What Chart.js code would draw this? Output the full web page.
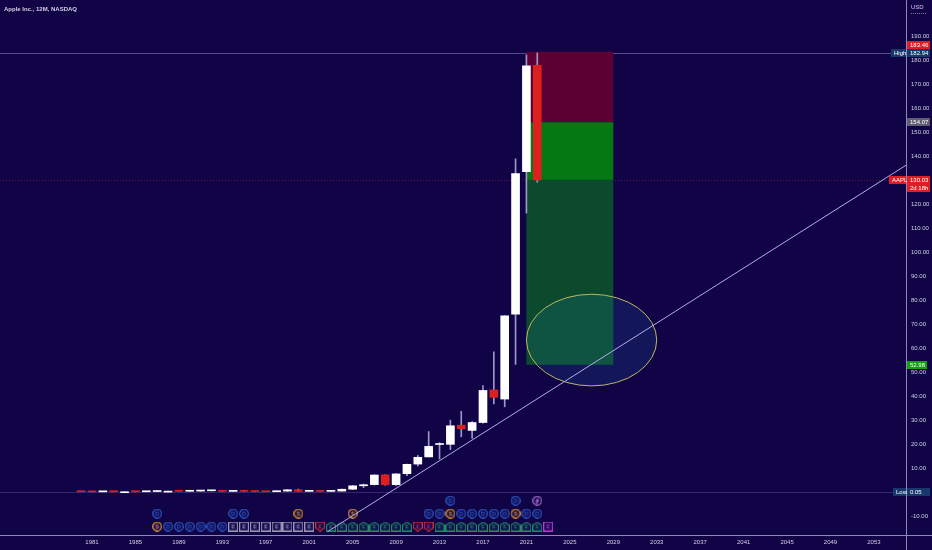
<!DOCTYPE html>
<html>
<head>
<meta charset="utf-8">
<script src="https://cdn.jsdelivr.net/npm/chart.js@4.4.0/dist/chart.umd.min.js"></script>
<style>
  html, body { margin: 0; padding: 0; background: #100346; }
  #wrap { width: 932px; height: 550px; position: relative; }
</style>
</head>
<body>
<div id="wrap"><canvas id="chart" width="932" height="550"></canvas></div>
<script>
// =====================================
// Yearly candles (split adjusted)
// =====================================
const years  = [1980, 1981, 1982, 1983, 1984, 1985, 1986, 1987, 1988, 1989, 1990, 1991, 1992, 1993, 1994, 1995, 1996, 1997, 1998, 1999, 2000, 2001, 2002, 2003, 2004, 2005, 2006, 2007, 2008, 2009, 2010, 2011, 2012, 2013, 2014, 2015, 2016, 2017, 2018, 2019, 2020, 2021, 2022];
const opens  = [0.13, 0.12, 0.07, 0.12, 0.11, 0.11, 0.10, 0.18, 0.36, 0.36, 0.30, 0.38, 0.50, 0.53, 0.26, 0.35, 0.29, 0.19, 0.12, 0.37, 0.93, 0.27, 0.40, 0.26, 0.38, 1.16, 2.59, 3.08, 7.12, 3.07, 7.62, 11.63, 14.62, 19.78, 19.85, 27.85, 25.65, 28.95, 42.54, 38.72, 74.06, 133.52, 177.83];
const highs  = [0.13, 0.13, 0.14, 0.23, 0.14, 0.13, 0.20, 0.54, 0.42, 0.45, 0.44, 0.65, 0.63, 0.66, 0.40, 0.45, 0.31, 0.21, 0.39, 1.04, 1.22, 0.47, 0.47, 0.42, 1.23, 2.69, 3.30, 7.20, 7.19, 7.62, 11.67, 15.24, 25.18, 20.54, 29.94, 33.64, 29.30, 44.30, 58.37, 73.49, 138.79, 182.13, 182.94];
const lows   = [0.11, 0.06, 0.05, 0.07, 0.08, 0.06, 0.08, 0.17, 0.30, 0.30, 0.21, 0.36, 0.39, 0.20, 0.24, 0.28, 0.16, 0.11, 0.12, 0.29, 0.23, 0.25, 0.23, 0.23, 0.37, 1.02, 1.80, 2.93, 2.79, 2.79, 6.79, 10.80, 14.60, 13.75, 17.63, 23.00, 22.37, 28.69, 36.65, 35.50, 53.15, 116.21, 129.04];
const closes = [0.12, 0.07, 0.12, 0.11, 0.11, 0.10, 0.18, 0.36, 0.36, 0.30, 0.38, 0.50, 0.53, 0.26, 0.35, 0.29, 0.19, 0.12, 0.37, 0.92, 0.27, 0.39, 0.26, 0.38, 1.15, 2.57, 3.03, 7.07, 3.05, 7.53, 11.52, 14.46, 19.01, 20.04, 27.59, 26.32, 28.95, 42.31, 39.44, 73.41, 132.69, 177.57, 130.03];

// axis ticks
const xTickYears = [1981, 1985, 1989, 1993, 1997, 2001, 2005, 2009, 2013, 2017, 2021, 2025, 2029, 2033, 2037, 2041, 2045, 2049, 2053];
const priceTicks = [-10, 0, 10, 20, 30, 40, 50, 60, 70, 80, 90, 100, 110, 120, 130, 140, 150, 160, 170, 180, 190];

// price markers
const highPrice = 182.94;
const lowPrice = 0.05;
const lastPrice = 130.03;

// short position tool: stop, entry, target
const positionYears = [2021, 2029];
const positionLevels = [183.46, 154.07, 52.98];

// ellipse (center year/price, radius years/price)
const ellipseCenter = [2027.0, 63.3];
const ellipseRadius = [6.0, 19.1];

// trend line
const trendYears = [2002.7, 2056.0];
const trendValues = [-16.5, 136.3];

// events on the chart bottom
const earningsGray  = [1994, 1995, 1996, 1997, 1998, 1999, 2000, 2001];
const earningsRed   = [2002, 2011, 2012];
const earningsGreen = [2003, 2004, 2005, 2006, 2007, 2008, 2009, 2010, 2013, 2014, 2015, 2016, 2017, 2018, 2019, 2020, 2021, 2022];
const earningsNext  = [2023];
const dividendsLow  = [1988, 1989, 1990, 1991, 1992, 1993];
const dividendsMid  = [1987, 1994, 1995, 2012, 2013, 2015, 2016, 2017, 2018, 2019, 2021, 2022];
const dividendsTop  = [2014, 2020];
const splitsLow     = [1987];
const splitsMid     = [2000, 2005, 2014, 2020];
const newsTop       = [2022];

// =====================================
// Look
// =====================================
const FONT = '"Liberation Sans", Arial, sans-serif';
const TEXT = '#d2d0e4';
const AXIS_LINE = '#8c88bc';
const UP = '#ffffff';
const DOWN = '#dd1f1f';
const WICK = '#9c98c8';
const ROW_LOW = -14.4, ROW_MID = -9.0, ROW_TOP = -3.6;

function makeIcon(shape, color, letter) {
    const c = document.createElement("canvas");
    c.width = 10; c.height = 10;
    const g = c.getContext("2d");
    g.lineWidth = 1.2;
    g.strokeStyle = color;
    g.fillStyle = "#120852";
    g.beginPath();
    if (shape === "circle") {
        g.arc(5, 5, 4.3, 0, Math.PI * 2);
    } else if (shape === "house") {
        g.moveTo(5, 0.6); g.lineTo(9.4, 3.5); g.lineTo(9.4, 9.4); g.lineTo(0.6, 9.4); g.lineTo(0.6, 3.5); g.closePath();
    } else if (shape === "shield") {
        g.moveTo(0.6, 0.6); g.lineTo(9.4, 0.6); g.lineTo(9.4, 6.5); g.lineTo(5, 9.4); g.lineTo(0.6, 6.5); g.closePath();
    } else {
        g.rect(0.6, 0.6, 8.8, 8.8);
    }
    g.fill();
    g.stroke();
    if (letter === "bolt") {
        g.strokeStyle = color;
        g.beginPath();
        g.moveTo(6, 2.5); g.lineTo(4, 5.2); g.lineTo(6, 5.2); g.lineTo(4, 7.8);
        g.stroke();
    } else {
        g.fillStyle = color;
        g.font = "bold 5.5px " + FONT;
        g.textAlign = "center";
        g.textBaseline = "middle";
        g.fillText(letter, 5, 5.4);
    }
    return c;
}

const iconD = makeIcon("circle", "#2c5cc4", "D");
const iconS = makeIcon("circle", "#e89a22", "S");
const iconEGray = makeIcon("square", "#9a98ac", "E");
const iconERed = makeIcon("shield", "#d0302e", "E");
const iconEGreen = makeIcon("house", "#1f8c62", "E");
const iconENext = makeIcon("square", "#c236d2", "E");
const iconNews = makeIcon("circle", "#a46cc4", "bolt");

function eventSet(list, row, icon) {
    return {
        type: "scatter",
        data: list.map(y => ({ x: y, y: row })),
        pointStyle: icon,
        pointRadius: 5,
        pointHoverRadius: 5
    };
}

// =====================================
// Plugins
// =====================================
const drawingsPlugin = {
    id: "drawings",
    beforeDatasetsDraw(chart) {
        const { ctx, chartArea: a, scales: { x, y } } = chart;
        ctx.save();
        ctx.beginPath();
        ctx.rect(a.left, a.top, a.right - a.left, a.bottom - a.top);
        ctx.clip();

        // price lines
        ctx.lineWidth = 1;
        ctx.strokeStyle = "rgba(150,130,215,0.55)";
        let py = Math.round(y.getPixelForValue(highPrice)) + 0.5;
        ctx.beginPath(); ctx.moveTo(a.left, py); ctx.lineTo(a.right, py); ctx.stroke();

        ctx.strokeStyle = "rgba(120,110,190,0.35)";
        py = Math.round(y.getPixelForValue(lowPrice)) + 0.5;
        ctx.beginPath(); ctx.moveTo(a.left, py); ctx.lineTo(a.right, py); ctx.stroke();

        ctx.strokeStyle = "rgba(200,40,70,0.45)";
        ctx.setLineDash([1, 2]);
        py = Math.round(y.getPixelForValue(lastPrice)) + 0.5;
        ctx.beginPath(); ctx.moveTo(a.left, py); ctx.lineTo(a.right, py); ctx.stroke();
        ctx.setLineDash([]);

        // position tool
        const x0 = x.getPixelForValue(positionYears[0]);
        const x1 = x.getPixelForValue(positionYears[1]);
        const yStop = y.getPixelForValue(positionLevels[0]);
        const yEntry = y.getPixelForValue(positionLevels[1]);
        const yTarget = y.getPixelForValue(positionLevels[2]);
        const yLast = y.getPixelForValue(lastPrice);
        ctx.fillStyle = "#5c0034";
        ctx.fillRect(x0, yStop, x1 - x0, yEntry - yStop);
        ctx.fillStyle = "#067812";
        ctx.fillRect(x0, yEntry, x1 - x0, yLast - yEntry);
        ctx.fillStyle = "#0b4a2c";
        ctx.fillRect(x0, yLast, x1 - x0, yTarget - yLast);

        // ellipse
        const cx = x.getPixelForValue(ellipseCenter[0]);
        const cy = y.getPixelForValue(ellipseCenter[1]);
        const rx = Math.abs(x.getPixelForValue(ellipseCenter[0] + ellipseRadius[0]) - cx);
        const ry = Math.abs(y.getPixelForValue(ellipseCenter[1] + ellipseRadius[1]) - cy);
        ctx.beginPath();
        ctx.ellipse(cx, cy, rx, ry, 0, 0, Math.PI * 2);
        ctx.fillStyle = "rgba(40,130,190,0.16)";
        ctx.fill();
        ctx.strokeStyle = "#bdb85c";
        ctx.lineWidth = 1;
        ctx.stroke();
        ctx.restore();
    },
    afterDraw(chart) {
        const { ctx, chartArea: a, scales: { y }, width, height } = chart;
        ctx.save();
        // axis lines
        ctx.strokeStyle = AXIS_LINE;
        ctx.lineWidth = 1;
        ctx.beginPath();
        ctx.moveTo(a.right + 0.5, 0); ctx.lineTo(a.right + 0.5, height);
        ctx.moveTo(0, a.bottom + 0.5); ctx.lineTo(width, a.bottom + 0.5);
        ctx.stroke();

        // title
        ctx.fillStyle = TEXT;
        ctx.font = "bold 6px " + FONT;
        ctx.textBaseline = "middle";
        ctx.textAlign = "left";
        ctx.fillText("Apple Inc., 12M, NASDAQ", 4, 9);

        // currency
        ctx.font = "6px " + FONT;
        ctx.fillText("USD", a.right + 5, 7);
        ctx.strokeStyle = "rgba(200,200,220,0.6)";
        ctx.setLineDash([1, 1]);
        ctx.beginPath(); ctx.moveTo(a.right + 5, 13.5); ctx.lineTo(a.right + 20, 13.5); ctx.stroke();
        ctx.setLineDash([]);

        // price tags on the axis
        const ax = a.right + 1;
        function tag(yc, text, bg, x, w) {
            ctx.fillStyle = bg;
            ctx.fillRect(x, Math.round(yc - 4), w, 8);
            ctx.fillStyle = "#ffffff";
            ctx.fillText(text, x + 3, Math.round(yc - 4) + 4.3);
        }
        const yHigh = y.getPixelForValue(highPrice);
        const yStop = Math.min(y.getPixelForValue(positionLevels[0]), yHigh - 8);
        tag(yStop, positionLevels[0].toFixed(2), "#e01d24", ax, 23);
        tag(yHigh, "High", "#17386b", ax - 16, 15);
        tag(yHigh, highPrice.toFixed(2), "#17386b", ax, 23);
        tag(y.getPixelForValue(positionLevels[1]), positionLevels[1].toFixed(2), "#5f5d70", ax, 23);
        const yLast = y.getPixelForValue(lastPrice);
        tag(yLast, "AAPL", "#e01d24", ax - 18, 17);
        tag(yLast, lastPrice.toFixed(2), "#e01d24", ax, 23);
        tag(yLast + 8, "2d 18h", "#e01d24", ax, 23);
        tag(y.getPixelForValue(positionLevels[2]), positionLevels[2].toFixed(2), "#12a012", ax, 20);
        const yLow = y.getPixelForValue(lowPrice);
        tag(yLow, "Low", "#17386b", ax - 14, 13);
        tag(yLow, lowPrice.toFixed(2), "#17386b", ax, 23);
        ctx.restore();
    }
};

// =====================================
// Chart
// =====================================
const bodies = years.map((yr, i) => ({ x: yr, y: [opens[i], closes[i]] }));
const wicks = years.map((yr, i) => ({ x: yr, y: [lows[i], highs[i]] }));
const bodyColors = years.map((yr, i) => closes[i] >= opens[i] ? UP : DOWN);

const ctx = document.getElementById("chart").getContext("2d");
new Chart(ctx, {
    type: "bar",
    data: {
        datasets: [
            {
                type: "line",
                data: trendYears.map((yr, i) => ({ x: yr, y: trendValues[i] })),
                borderColor: "#b4acec",
                borderWidth: 1,
                pointRadius: 0,
                tension: 0
            },
            eventSet(newsTop, ROW_TOP, iconNews),
            eventSet(dividendsTop, ROW_TOP, iconD),
            eventSet(dividendsMid, ROW_MID, iconD),
            eventSet(splitsMid, ROW_MID, iconS),
            eventSet(dividendsLow, ROW_LOW, iconD),
            eventSet(splitsLow, ROW_LOW, iconS),
            eventSet(earningsGray, ROW_LOW, iconEGray),
            eventSet(earningsRed, ROW_LOW, iconERed),
            eventSet(earningsGreen, ROW_LOW, iconEGreen),
            eventSet(earningsNext, ROW_LOW, iconENext),
            {
                label: "body",
                data: bodies,
                backgroundColor: bodyColors,
                barThickness: 8,
                minBarLength: 1,
                grouped: false,
                borderWidth: 0
            },
            {
                label: "wick",
                data: wicks,
                backgroundColor: WICK,
                barThickness: 1,
                grouped: false,
                borderWidth: 0
            }
        ]
    },
    options: {
        responsive: false,
        animation: false,
        events: [],
        layout: { padding: 0, autoPadding: false },
        plugins: {
            legend: { display: false },
            tooltip: { enabled: false },
            title: { display: false }
        },
        scales: {
            x: {
                type: "linear",
                min: 1972.53,
                max: 2055.95,
                offset: false,
                grid: { display: false, drawTicks: false },
                border: { display: false },
                afterBuildTicks: s => { s.ticks = xTickYears.map(v => ({ value: v })); },
                afterFit: s => { s.height = 15; s.paddingLeft = 0; s.paddingRight = 0; },
                ticks: {
                    color: TEXT,
                    font: { family: FONT, size: 6 },
                    padding: 4,
                    maxRotation: 0,
                    autoSkip: false,
                    callback: v => String(v)
                }
            },
            y: {
                position: "right",
                min: -17.92,
                max: 205,
                grid: { display: false, drawTicks: false },
                border: { display: false },
                afterBuildTicks: s => { s.ticks = priceTicks.map(v => ({ value: v })); },
                afterFit: s => { s.width = 26; s.paddingTop = 0; s.paddingBottom = 0; },
                ticks: {
                    color: TEXT,
                    font: { family: FONT, size: 6 },
                    padding: 5,
                    autoSkip: false,
                    callback: v => v.toFixed(2)
                }
            }
        }
    },
    plugins: [drawingsPlugin]
});
</script>
</body>
</html>
